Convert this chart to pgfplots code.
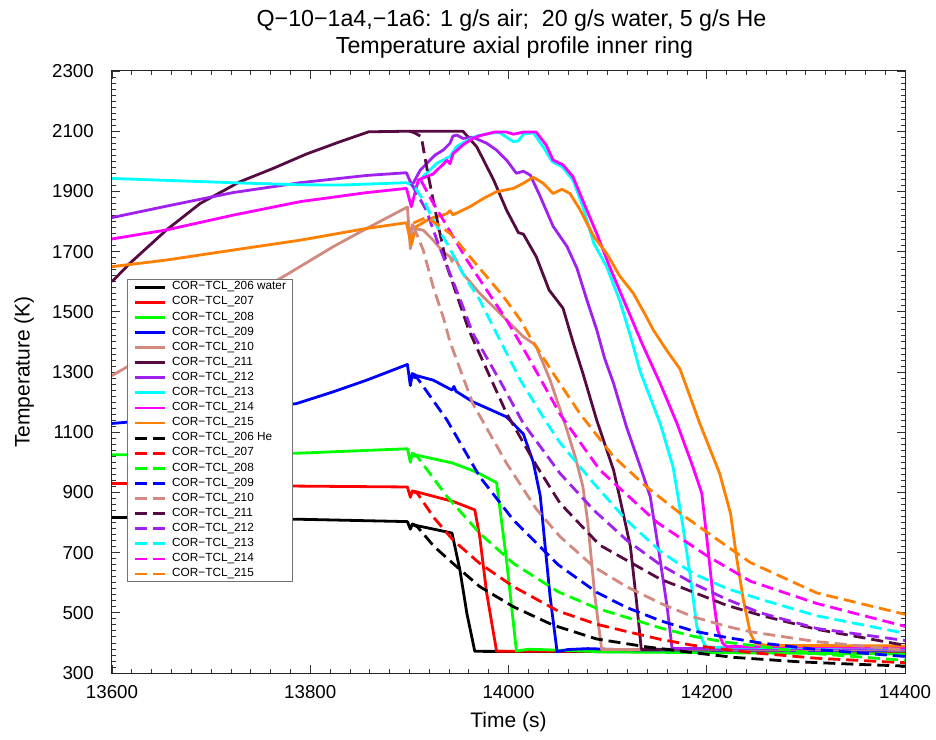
\documentclass[border=0pt]{standalone}
\usepackage{fontspec}
\setmainfont{Liberation Sans}
\usepackage{pgfplots}
\pgfplotsset{compat=1.18}

\definecolor{c206}{RGB}{0,0,0}
\definecolor{c207}{RGB}{255,0,0}
\definecolor{c208}{RGB}{0,255,0}
\definecolor{c209}{RGB}{0,0,255}
\definecolor{c210}{RGB}{210,138,128}
\definecolor{c211}{RGB}{85,10,65}
\definecolor{c212}{RGB}{160,32,240}
\definecolor{c213}{RGB}{0,255,255}
\definecolor{c214}{RGB}{255,0,255}
\definecolor{c215}{RGB}{255,128,0}

\pgfplotsset{
  water/.style={line width=2.8pt, line join=round, solid},
  helium/.style={line width=2.8pt, line join=round, dash pattern=on 12pt off 6pt},
}

\begin{document}
\begin{tikzpicture}
\useasboundingbox (-112pt,-66pt) rectangle (824pt,673pt);
\begin{axis}[
  name=ax,
  at={(0pt,0pt)}, anchor=south west,
  width=793pt, height=602pt, scale only axis,
  xmin=13600, xmax=14400, ymin=300, ymax=2300,
  xtick={13600,13800,...,14400}, ytick={300,500,...,2300},
  scaled x ticks=false, scaled y ticks=false,
  minor x tick num=9, minor y tick num=9,
  tick align=inside,
  major tick length=8pt, minor tick length=4.5pt,
  every tick/.style={black!80, line width=0.8pt},
  axis line style={black!85, line width=1pt},
  /pgf/number format/assume math mode=true,
  /pgf/number format/1000 sep={},
  tick label style={font=\fontsize{18.7}{18.7}\selectfont},
  xticklabel style={anchor=north, inner sep=0pt, yshift=-12pt},
  yticklabel style={anchor=east, inner sep=0pt, xshift=-18pt},
  xlabel={Time (s)}, ylabel={Temperature (K)},
  label style={font=\fontsize{21}{21}\selectfont},
  xlabel style={at={(axis description cs:0.5,-0.0905)}, anchor=base},
  ylabel style={at={(axis description cs:-0.104,0.5)}, anchor=base},
  legend image code/.code={\draw[#1] (0pt,0pt) -- (30pt,0pt);},
  legend style={at={(rel axis cs:0.0189,0.6545)}, anchor=north west,
    draw=black!55, line width=0.8pt, fill=white,
    inner xsep=6pt, inner ysep=2pt, row sep=3.6pt, column sep=6pt,
    font=\fontsize{11.8}{14}\selectfont,
    nodes={inner sep=0pt, text height=8.5pt, text depth=3pt}},
  legend cell align=left,
]

% ---- thermocouple readings, water-cooled run (solid)
\addplot[c206, water] coordinates {(13600,817) (13700,814) (13786,811) (13898,803) (13901,778) (13903,795) (13907,790) (13943,765) (13951,642) (13958,498) (13966,372) (14100,371) (14400,369)};
\addlegendentry{COR−TCL\_206 water}
\addplot[c207, water] coordinates {(13600,930) (13786,921) (13898,918) (13901,884) (13903,905) (13907,902) (13944,870) (13966,842) (13971,752) (13978,565) (13988,372) (14100,372) (14400,371)};
\addlegendentry{COR−TCL\_207}
\addplot[c208, water] coordinates {(13600,1025) (13786,1030) (13898,1045) (13901,1000) (13903,1030) (13907,1024) (13943,998) (13961,976) (13971,962) (13988,932) (13998,675) (14008,373) (14020,379) (14040,377) (14100,370) (14400,363)};
\addlegendentry{COR−TCL\_208}
\addplot[c209, water] coordinates {(13600,1129) (13700,1158) (13786,1195) (13823,1234) (13857,1273) (13898,1325) (13901,1255) (13903,1295) (13907,1288) (13924,1273) (13943,1240) (13945,1252) (13947,1236) (13964,1201) (13998,1151) (14015,1094) (14025,1000) (14032,889) (14037,720) (14042,553) (14049,371) (14060,378) (14080,381) (14120,377) (14400,374)};
\addlegendentry{COR−TCL\_209}
\addplot[c210, water] coordinates {(13600,1288) (13700,1478) (13776,1623) (13823,1716) (13857,1777) (13898,1848) (13901,1709) (13903,1790) (13906,1776) (13914,1771) (13924,1738) (13934,1699) (13941,1683) (13943,1667) (13945,1685) (13954,1627) (13971,1561) (13988,1506) (14005,1450) (14015,1417) (14025,1395) (14028,1384) (14042,1273) (14059,1107) (14068,1010) (14075,920) (14080,800) (14087,560) (14094,378) (14200,377) (14400,376)};
\addlegendentry{COR−TCL\_210}
\addplot[c211, water] coordinates {(13600,1600) (13618,1661) (13655,1772) (13689,1860) (13729,1932) (13763,1977) (13796,2024) (13830,2065) (13859,2098) (13900,2100) (13954,2100) (13968,2048) (13985,1938) (13998,1838) (14010,1763) (14015,1758) (14028,1683) (14041,1572) (14055,1512) (14065,1400) (14075,1296) (14089,1140) (14106,974) (14112,886) (14123,720) (14129,542) (14134,378) (14200,380) (14400,383)};
\addlegendentry{COR−TCL\_211}
\addplot[c212, water] coordinates {(13600,1813) (13655,1851) (13722,1896) (13790,1929) (13857,1953) (13897,1962) (13902,1924) (13904,1928) (13911,1971) (13926,2021) (13934,2037) (13941,2060) (13944,2084) (13948,2087) (13954,2076) (13964,2080) (13978,2060) (13988,2037) (13998,2004) (14008,1960) (14015,1967) (14022,1954) (14032,1883) (14045,1784) (14059,1717) (14069,1645) (14079,1540) (14089,1440) (14097,1345) (14106,1262) (14119,1118) (14133,985) (14143,886) (14153,675) (14160,520) (14165,382) (14200,381) (14400,380)};
\addlegendentry{COR−TCL\_212}
\addplot[c213, water] coordinates {(13600,1943) (13660,1936) (13729,1928) (13790,1922) (13830,1921) (13897,1929) (13902,1922) (13906,1912) (13914,1950) (13928,1994) (13941,2016) (13948,2050) (13954,2061) (13968,2084) (13985,2095) (13991,2095) (14005,2065) (14010,2068) (14015,2090) (14025,2095) (14035,2048) (14044,1999) (14054,1982) (14065,1938) (14075,1850) (14086,1728) (14099,1650) (14112,1539) (14123,1420) (14133,1300) (14153,1129) (14166,985) (14176,786) (14183,631) (14190,454) (14197,399) (14200,386) (14400,383)};
\addlegendentry{COR−TCL\_213}
\addplot[c214, water] coordinates {(13600,1742) (13655,1772) (13722,1821) (13790,1866) (13857,1896) (13897,1910) (13902,1849) (13909,1938) (13924,1958) (13938,2003) (13941,1992) (13944,2025) (13954,2054) (13964,2076) (13971,2085) (13986,2097) (13998,2097) (14005,2090) (14015,2097) (14028,2097) (14038,2054) (14045,2004) (14055,1988) (14065,1949) (14079,1838) (14089,1760) (14102,1650) (14119,1517) (14134,1400) (14153,1262) (14170,1129) (14186,985) (14195,897) (14201,720) (14206,565) (14211,443) (14216,399) (14220,388) (14400,385)};
\addlegendentry{COR−TCL\_214}
\addplot[c215, water] coordinates {(13600,1650) (13655,1672) (13722,1705) (13790,1738) (13857,1777) (13897,1796) (13902,1722) (13904,1749) (13907,1783) (13921,1810) (13938,1826) (13941,1836) (13944,1822) (13961,1849) (13975,1877) (13988,1899) (14005,1910) (14015,1927) (14025,1947) (14035,1927) (14045,1893) (14054,1907) (14062,1893) (14072,1840) (14086,1750) (14099,1694) (14112,1620) (14126,1561) (14139,1484) (14146,1440) (14160,1370) (14173,1310) (14193,1129) (14213,963) (14224,830) (14230,686) (14237,542) (14244,432) (14249,399) (14260,392) (14400,390)};
\addlegendentry{COR−TCL\_215}

% ---- thermocouple readings, helium run (dashed)
\addplot[c206, helium] coordinates {(13902,795) (13908,786) (13925,720) (13944,664) (13971,587) (14005,520) (14045,459) (14089,413) (14139,387) (14180,370) (14227,352) (14294,337) (14350,329) (14400,323)};
\addlegendentry{COR−TCL\_206 He}
\addplot[c207, helium] coordinates {(13902,905) (13908,897) (13925,815) (13944,742) (13971,664) (14005,587) (14050,506) (14089,462) (14119,438) (14153,412) (14186,392) (14244,368) (14311,349) (14400,334)};
\addlegendentry{COR−TCL\_207}
\addplot[c208, helium] coordinates {(13902,1025) (13908,1019) (13938,886) (13971,764) (14005,664) (14050,570) (14089,515) (14119,485) (14153,450) (14186,422) (14220,402) (14254,388) (14311,364) (14400,342)};
\addlegendentry{COR−TCL\_208}
\addplot[c209, helium] coordinates {(13902,1285) (13908,1280) (13938,1140) (13971,952) (14005,808) (14050,660) (14089,568) (14119,518) (14153,474) (14186,440) (14220,418) (14254,400) (14311,378) (14400,355)};
\addlegendentry{COR−TCL\_209}
\addplot[c210, helium] coordinates {(13904,1785) (13914,1705) (13924,1583) (13934,1484) (13941,1400) (13964,1195) (13998,997) (14028,845) (14052,753) (14086,653) (14119,587) (14153,532) (14186,487) (14220,455) (14244,437) (14311,404) (14400,376)};
\addlegendentry{COR−TCL\_210}
\addplot[c211, helium] coordinates {(13900,2100) (13905,2095) (13912,2082) (13918,1971) (13928,1805) (13938,1650) (13960,1439) (13998,1163) (14028,990) (14052,864) (14092,725) (14153,612) (14220,525) (14254,492) (14311,445) (14400,392)};
\addlegendentry{COR−TCL\_211}
\addplot[c212, helium] coordinates {(13902,1925) (13917,1838) (13929,1727) (13941,1627) (13954,1517) (13964,1428) (13991,1273) (14015,1129) (14052,963) (14086,841) (14119,742) (14153,660) (14186,598) (14220,545) (14254,500) (14311,448) (14400,408)};
\addlegendentry{COR−TCL\_212}
\addplot[c213, helium] coordinates {(13906,1912) (13916,1860) (13924,1805) (13938,1727) (13954,1627) (13971,1539) (13988,1428) (14012,1273) (14039,1129) (14052,1065) (14086,930) (14119,808) (14153,705) (14186,631) (14220,581) (14254,545) (14311,490) (14400,432)};
\addlegendentry{COR−TCL\_213}
\addplot[c214, helium] coordinates {(13912,1935) (13922,1873) (13938,1784) (13958,1672) (13978,1572) (13998,1473) (14012,1395) (14025,1320) (14052,1160) (14092,975) (14150,800) (14200,690) (14244,605) (14311,531) (14400,455)};
\addlegendentry{COR−TCL\_214}
\addplot[c215, helium] coordinates {(13904,1795) (13917,1813) (13931,1785) (13941,1760) (13948,1735) (13961,1683) (13978,1617) (13995,1550) (14012,1473) (14022,1415) (14045,1296) (14072,1162) (14106,1019) (14139,919) (14173,831) (14210,745) (14244,667) (14311,566) (14400,495)};
\addlegendentry{COR−TCL\_215}
\end{axis}

\node[anchor=base, font=\fontsize{23.2}{23.2}\selectfont] at ([xshift=3pt, yshift=44.7pt]ax.north)
  {Q−10−1a4,−1a6: 1 g/s air;\ \ 20 g/s water, 5 g/s He};
\node[anchor=base, font=\fontsize{23.2}{23.2}\selectfont] at ([xshift=6pt, yshift=17.7pt]ax.north)
  {Temperature axial profile inner ring};
\end{tikzpicture}
\end{document}
